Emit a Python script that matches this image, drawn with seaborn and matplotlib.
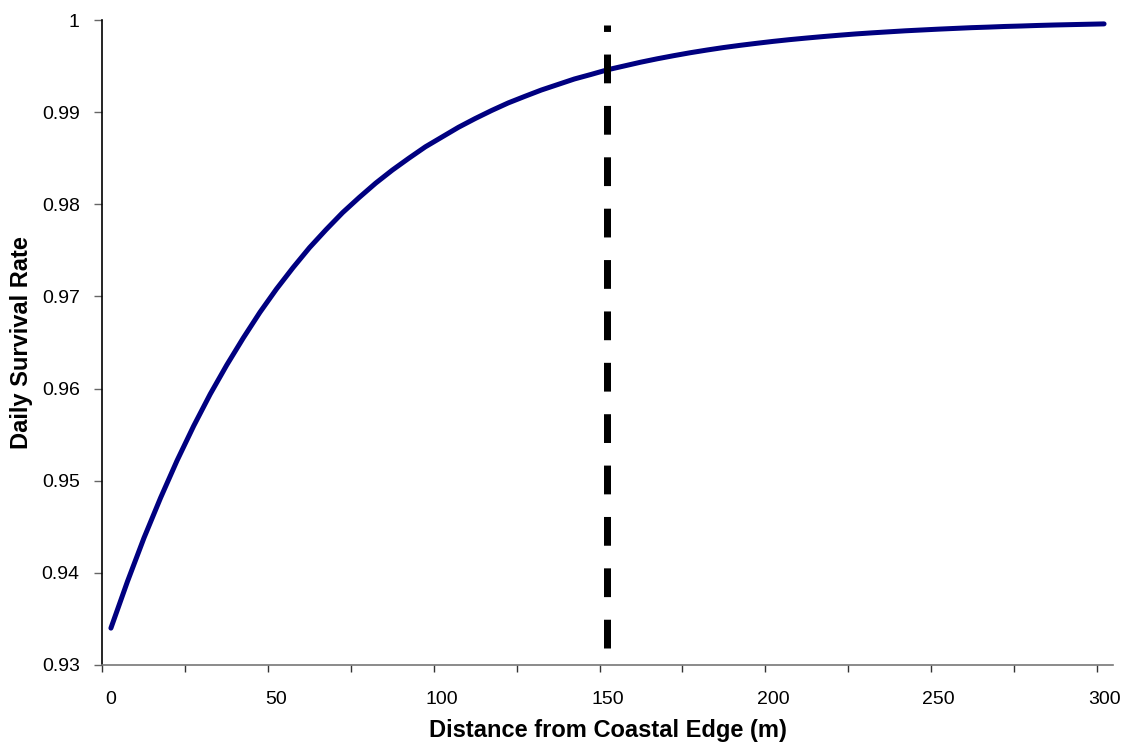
import numpy as np
import pandas as pd
import matplotlib.pyplot as plt
import seaborn as sns

sns.set_style("ticks")
plt.rcParams['font.family'] = ['Liberation Sans', 'DejaVu Sans']
plt.rcParams['text.color'] = 'black'
plt.rcParams['axes.labelcolor'] = 'black'
plt.rcParams['xtick.color'] = 'black'
plt.rcParams['ytick.color'] = 'black'

# values (distance in m, daily survival rate)
distance = [0, 5, 10, 15, 20, 25, 30, 35, 40, 45, 50, 55, 60, 65, 70, 75, 80, 85, 90, 95, 100,
            105, 110, 115, 120, 125, 130, 135, 140, 145, 150, 155, 160, 165, 170, 175, 180, 185, 190, 195, 200,
            205, 210, 215, 220, 225, 230, 235, 240, 245, 250, 255, 260, 265, 270, 275, 280, 285, 290, 295, 300]
survival = [0.9340, 0.93906, 0.9438, 0.94814, 0.9522, 0.95594, 0.9594, 0.96256, 0.9655, 0.96827,
            0.9708, 0.97312, 0.9753, 0.97725, 0.9791, 0.98074, 0.9823, 0.98371, 0.9850, 0.98624,
            0.9873, 0.98836, 0.9893, 0.99018, 0.9910, 0.99171, 0.9924, 0.99300, 0.9936, 0.99409,
            0.9946, 0.99501, 0.99542, 0.99579, 0.99613, 0.99645, 0.99674, 0.99701, 0.99725, 0.99747,
            0.99768, 0.99787, 0.99804, 0.99820, 0.99835, 0.99849, 0.99861, 0.99872, 0.99883, 0.99892,
            0.99901, 0.99909, 0.99917, 0.99923, 0.99930, 0.99935, 0.99941, 0.99946, 0.99950, 0.99954,
            0.99958]
cutoff_x = [150, 150]
cutoff_y = [0.93185, 0.99946]
xtick_vals = [0, 50, 100, 150, 200, 250, 300]
ytick_vals = [0.93, 0.94, 0.95, 0.96, 0.97, 0.98, 0.99, 1.00]
ytick_labels = ["0.93", "0.94", "0.95", "0.96", "0.97", "0.98", "0.99", "1"]

df = pd.DataFrame({"distance": distance, "survival": survival})

fig = plt.figure(figsize=(11.28, 7.47), dpi=100)
ax = fig.add_axes([0.0904, 0.1098, 0.8963, 0.8634])

sns.lineplot(data=df, x="distance", y="survival", color="#000080",
             linewidth=3.6, ax=ax, solid_capstyle="round")
ax.plot(cutoff_x, cutoff_y, color="black", linewidth=5.04,
        dashes=(4.11, 3.23), dash_capstyle="butt")

ax.set_xlim(-2.7, 302.7)
ax.set_ylim(0.93, 1.0)

ax.set_xticks(xtick_vals)
ax.set_xticklabels([str(v) for v in xtick_vals])
ax.set_xticks(np.arange(-2.7, 300, 25.05), minor=True)
ax.tick_params(axis="x", which="major", length=0, pad=19, labelsize=14)
ax.tick_params(axis="x", which="minor", length=5, width=1, color="#333333", direction="out")

ax.set_yticks(ytick_vals)
ax.set_yticklabels(ytick_labels)
ax.tick_params(axis="y", which="major", length=6, width=1, color="#666666",
               direction="out", pad=10, labelsize=14)

for s in ["top", "right"]:
    ax.spines[s].set_visible(False)
ax.spines["left"].set_color("black")
ax.spines["left"].set_linewidth(1.2)
ax.spines["bottom"].set_color("#777777")
ax.spines["bottom"].set_linewidth(1.2)

ax.set_xlabel("Distance from Coastal Edge (m)", fontsize=17, fontweight="bold")
ax.set_ylabel("Daily Survival Rate", fontsize=17, fontweight="bold")
ax.xaxis.set_label_coords(0.5, -0.084)
ax.yaxis.set_label_coords(-0.068, 0.5)

fig.savefig("out.png", dpi=100)
